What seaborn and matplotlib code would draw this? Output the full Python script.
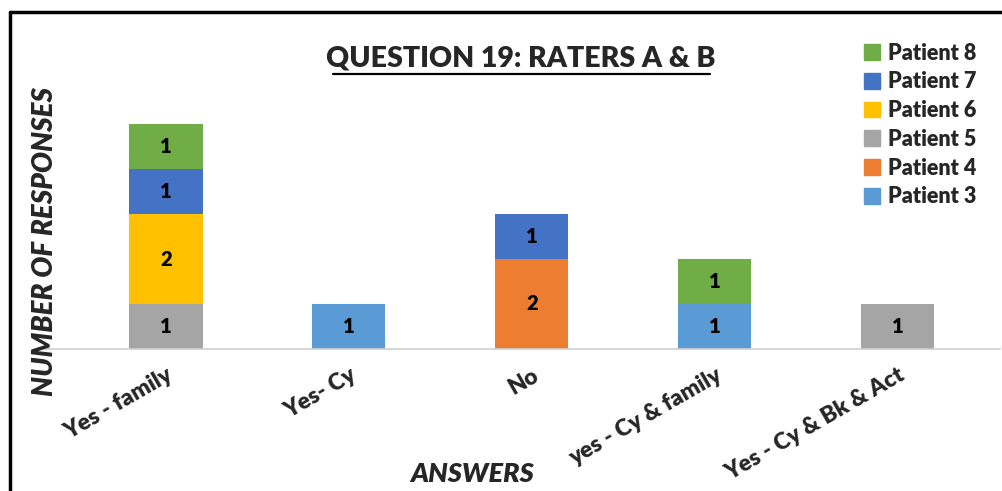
import matplotlib
matplotlib.use("Agg")
import matplotlib.pyplot as plt
import matplotlib.patches as mpatches
from matplotlib.lines import Line2D
import seaborn as sns
import pandas as pd

categories = ["Yes - family", "Yes- Cy", "No", "yes - Cy & family", "Yes - Cy & Bk & Act"]
patients = ["Patient 3", "Patient 4", "Patient 5", "Patient 6", "Patient 7", "Patient 8"]
patient3 = [0, 1, 0, 1, 0]
patient4 = [0, 0, 2, 0, 0]
patient5 = [1, 0, 0, 0, 1]
patient6 = [2, 0, 0, 0, 0]
patient7 = [1, 0, 1, 0, 0]
patient8 = [1, 0, 0, 1, 0]
colors = ["#5B9BD5", "#ED7D31", "#A5A5A5", "#FFC000", "#4472C4", "#70AD47"]

series = [patient3, patient4, patient5, patient6, patient7, patient8]
rows = []
for p, vals in zip(patients, series):
    for c, v in zip(categories, vals):
        rows.append({"answer": c, "patient": p, "count": v})
df = pd.DataFrame(rows)
df["answer"] = pd.Categorical(df["answer"], categories=categories, ordered=True)

sns.set_theme(style="white")
plt.rcParams["font.family"] = ["Lato", "DejaVu Sans"]

fig = plt.figure(figsize=(10.03, 4.91), dpi=100)
ax = fig.add_axes([38 / 1003, (491 - 349) / 491, (1000 - 38) / 1003, 270 / 491])

palette = dict(zip(patients, colors))
hue_order = patients[::-1]
sns.histplot(data=df, x="answer", weights="count", hue="patient", hue_order=hue_order,
             multiple="stack", discrete=True, shrink=0.4, palette=palette,
             alpha=1, linewidth=0, legend=False, ax=ax)

for cont in ax.containers:
    labels = [f"{int(b.get_height())}" if b.get_height() > 0 else "" for b in cont]
    ax.bar_label(cont, labels=labels, label_type="center", fontsize=14.5, fontweight="heavy",
                 color="black")

ax.set_xlim(-0.7, 4.56)
ax.set_ylim(0, 6)
ax.set_yticks([])
for s in ["top", "right", "left"]:
    ax.spines[s].set_visible(False)
ax.spines["bottom"].set_color("#D0D0D0")
ax.spines["bottom"].set_linewidth(1.2)
ax.set_xticks(range(len(categories)))
ax.set_xticklabels(categories, rotation=30, ha="right", rotation_mode="anchor",
                   fontsize=16.5, fontweight="heavy")
ax.tick_params(axis="x", length=0, pad=11)
ax.set_xlabel("")
ax.set_ylabel("")

fig.text(472 / 1003, 1 - 474 / 491, "ANSWERS", ha="center", va="center",
         fontsize=19.5, fontweight="heavy", fontstyle="italic")
fig.text(45 / 1003, 1 - 242 / 491, "NUMBER OF RESPONSES", ha="center", va="center",
         rotation=90, fontsize=20, fontweight="heavy", fontstyle="italic")
fig.text(521 / 1003, 1 - 59 / 491, "QUESTION 19: RATERS A & B", ha="center", va="center",
         fontsize=20.5, fontweight="heavy")
fig.add_artist(Line2D([333 / 1003, 710 / 1003], [1 - 74 / 491, 1 - 74 / 491],
                      color="black", linewidth=1.6, transform=fig.transFigure))

handles = [mpatches.Patch(color=palette[p], label=p) for p in hue_order]
fig.legend(handles=handles, loc="upper right", bbox_to_anchor=(985 / 1003, 1 - 34 / 491),
           frameon=False, prop={"family": "Lato", "weight": "heavy", "size": 15.5},
           handlelength=0.75, handleheight=0.75, handletextpad=0.35, labelspacing=0.36,
           borderaxespad=0)

fig.add_artist(Line2D([10 / 1003, 10 / 1003], [0, 1 - 12 / 491], color="black",
                      linewidth=2.5, transform=fig.transFigure))
fig.add_artist(Line2D([10 / 1003, 1], [1 - 12 / 491, 1 - 12 / 491], color="black",
                      linewidth=2.5, transform=fig.transFigure))

fig.savefig("out.png", dpi=100)
